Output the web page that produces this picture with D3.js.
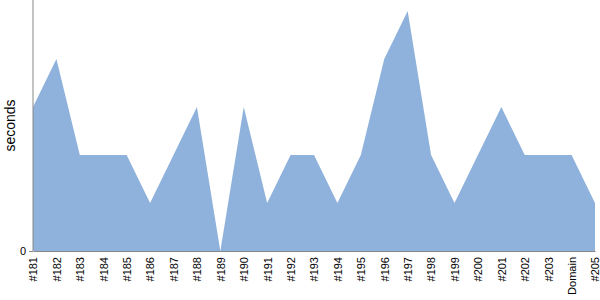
<!DOCTYPE html>
<html>
<head>
<meta charset="utf-8">
<script src="https://cdn.jsdelivr.net/npm/d3@7"></script>
<style>
  body { margin: 0; background: #fff; }
  .axis text { font-family: "Liberation Sans", Arial, sans-serif; font-size: 11px; fill: #000; }
  .axis path, .axis line { stroke: #888; }
</style>
</head>
<body>
<div id="chart"></div>
<script>
// categories along the x axis
let builds = ["#181", "#182", "#183", "#184", "#185", "#186", "#187", "#188", "#189", "#190",
  "#191", "#192", "#193", "#194", "#195", "#196", "#197", "#198", "#199", "#200",
  "#201", "#202", "#203", "Domain", "#205"];

// duration in seconds for each build
let seconds = [3, 4, 2, 2, 2, 1, 2, 3, 0, 3,
  1, 2, 2, 1, 2, 4, 5, 2, 1, 2,
  3, 2, 2, 2, 1];

let yTicks = [0];

let svgWidth = 600;
let svgHeight = 300;

let margin = {
    top: 0,
    right: 5,
    bottom: 49,
    left: 33
}

let width = svgWidth - (margin.left + margin.right);
let height = svgHeight - (margin.top + margin.bottom);

let svg = d3.select("#chart")
.append("svg")
.attr("width", svgWidth)
.attr("height", svgHeight)

let chartGroup = svg.append("g")
.attr("transform", `translate(${margin.left}, ${margin.top})`);

let xScale = d3.scalePoint()
.domain(builds)
.range([0, width]);

// a little head room above the tallest peak
let yScale = d3.scaleLinear()
.domain([0, d3.max(seconds) * 1.046])
.range([height, 0]);

let data = builds.map((b, i) => ({build: b, value: seconds[i]}));

let area = d3.area()
.x(d => xScale(d.build))
.y0(yScale(0))
.y1(d => yScale(d.value));

chartGroup.append("path")
.datum(data)
.attr("d", area)
.attr("fill", "#8fb2dc");

// x axis: baseline with rotated labels
let xAxis = chartGroup.append("g")
.attr("class", "axis")
.attr("transform", `translate(0,${height})`)
.call(d3.axisBottom(xScale).tickSize(0).tickSizeOuter(0));

xAxis.selectAll("text")
.attr("transform", "rotate(-90)")
.attr("text-anchor", "end")
.attr("x", -6)
.attr("y", 0)
.attr("dy", "0.35em");

// y axis: only the zero tick
chartGroup.append("g")
.attr("class", "axis")
.call(d3.axisLeft(yScale).tickValues(yTicks).tickFormat(d3.format("d")).tickSize(4).tickSizeOuter(0).tickPadding(3))
.select(".domain")
.attr("d", `M0,${height}V0`);

// y axis label
chartGroup.append("text")
.attr("transform", "rotate(-90)")
.attr("x", -height / 2)
.attr("y", -18)
.attr("text-anchor", "middle")
.attr("font-family", "'Liberation Sans', Arial, sans-serif")
.attr("font-size", "14px")
.text("seconds");
</script>
</body>
</html>
